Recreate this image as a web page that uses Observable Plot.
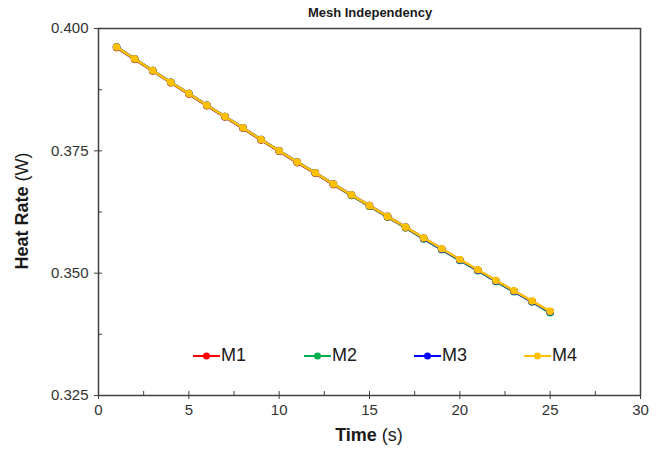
<!DOCTYPE html>
<html><head><meta charset="utf-8">
<script src="https://cdn.jsdelivr.net/npm/d3@7"></script>
<script src="https://cdn.jsdelivr.net/npm/@observablehq/plot@0.6"></script>
<style>
body{margin:0;background:#fff;font-family:"Liberation Sans",Arial,sans-serif}
#wrap{position:relative;width:663px;height:457px}
.ov{position:absolute;white-space:nowrap;color:#1a1a1a}
#title{left:0;width:740px;top:5px;text-align:center;font-weight:bold;font-size:13px}
#xlab{left:98px;width:542px;top:425px;text-align:center;font-size:18px}
#ylab{left:22px;top:211px;font-size:18px;transform:translate(-50%,-50%) rotate(-90deg)}
#legend{left:193px;top:345px;font-size:18px;display:flex}
.it{display:flex;align-items:center}
.it svg{margin-right:1px}
</style></head><body>
<div id="wrap"></div>
<script>
const time = [1,2,3,4,5,6,7,8,9,10,11,12,13,14,15,16,17,18,19,20,21,22,23,24,25];
const M1 = [0.3961,0.3937,0.3913,0.3889,0.3866,0.3842,0.3819,0.3796,0.3772,0.3749,0.3726,0.3704,0.3681,0.3659,0.3637,0.3615,0.3593,0.3571,0.3549,0.3527,0.3506,0.3484,0.3463,0.3442,0.3421];
const M2 = [0.3962,0.3938,0.3914,0.3890,0.3867,0.3843,0.3820,0.3797,0.3773,0.3750,0.3727,0.3705,0.3682,0.3659,0.3637,0.3615,0.3593,0.3570,0.3548,0.3526,0.3505,0.3483,0.3462,0.3441,0.3419];
const M3 = [0.3962,0.3938,0.3914,0.3890,0.3867,0.3843,0.3820,0.3797,0.3773,0.3750,0.3727,0.3705,0.3682,0.3660,0.3638,0.3616,0.3594,0.3571,0.3549,0.3527,0.3506,0.3484,0.3463,0.3442,0.3421];
const M4 = [0.3962,0.3938,0.3914,0.3890,0.3867,0.3843,0.3820,0.3797,0.3773,0.3750,0.3727,0.3705,0.3682,0.3660,0.3638,0.3616,0.3594,0.3572,0.3550,0.3528,0.3507,0.3485,0.3464,0.3443,0.3422];
const seriesNames = ["M1","M2","M3","M4"];
const seriesColors = ["#ff0000","#00b050","#0000ff","#ffc000"];
const xTicks = [0,5,10,15,20,25,30];
const xMinor = [2.5,7.5,12.5,17.5,22.5,27.5];
const yTicks = [0.325,0.350,0.375,0.400];
const yMinor = [0.3375,0.3625,0.3875];

const values = [M1,M2,M3,M4];
const rows = seriesNames.flatMap((s,i)=>time.map((t,j)=>({s, t, v: values[i][j]})));

const blank = () => "";
const axisColor = "#404040";
const marks = [
  Plot.axisX(xTicks, {tickSize:4, tickPadding:5, label:null, stroke:axisColor, fill:"#333", fontSize:15}),
  Plot.axisX(xTicks, {tickSize:-4, tickFormat:blank, label:null, stroke:axisColor}),
  Plot.axisX(xMinor, {tickSize:-4, tickFormat:blank, label:null, stroke:axisColor}),
  Plot.axisY(yTicks, {tickSize:4, tickPadding:6, tickFormat:d3.format(".3f"), label:null, stroke:axisColor, fill:"#333", fontSize:15}),
  Plot.axisY(yTicks, {tickSize:-4, tickFormat:blank, label:null, stroke:axisColor}),
  Plot.axisY(yMinor, {tickSize:-4, tickFormat:blank, label:null, stroke:axisColor}),
  Plot.frame({stroke:axisColor, strokeWidth:1.5})
];
seriesNames.forEach((s,i)=>{
  const d = rows.filter(r=>r.s===s);
  marks.push(Plot.line(d, {x:"t", y:"v", stroke:"s", strokeWidth:2.5}));
  marks.push(Plot.dot(d, {x:"t", y:"v", fill:"s", r:3.8}));
});

const chart = Plot.plot({
  width:663, height:457,
  marginLeft:98, marginRight:23, marginTop:28, marginBottom:62,
  style:{background:"#fff", fontFamily:"'Liberation Sans', Arial, sans-serif", fontSize:"15px"},
  x:{domain:[0,30], axis:null},
  y:{domain:[0.325,0.400], axis:null},
  color:{domain:seriesNames, range:seriesColors},
  marks
});
const wrap = document.getElementById("wrap");
wrap.appendChild(chart);

function ov(id, html){const d=document.createElement("div");d.className="ov";d.id=id;d.innerHTML=html;wrap.appendChild(d);return d;}
ov("title","Mesh Independency");
ov("xlab","<b>Time</b> (s)");
ov("ylab","<b>Heat Rate</b> (W)");
const leg = ov("legend","");
const starts = [0,111,221,331];
seriesNames.forEach((s,i)=>{
  const it=document.createElement("div");it.className="it";
  it.style.position="absolute";it.style.left=starts[i]+"px";it.style.top="0px";
  it.innerHTML=`<svg width="27" height="10"><line x1="0" y1="5" x2="27" y2="5" stroke="${seriesColors[i]}" stroke-width="2"/><circle cx="13.5" cy="5" r="3.5" fill="${seriesColors[i]}"/></svg><span>${s}</span>`;
  leg.appendChild(it);
});
</script>
</body></html>
